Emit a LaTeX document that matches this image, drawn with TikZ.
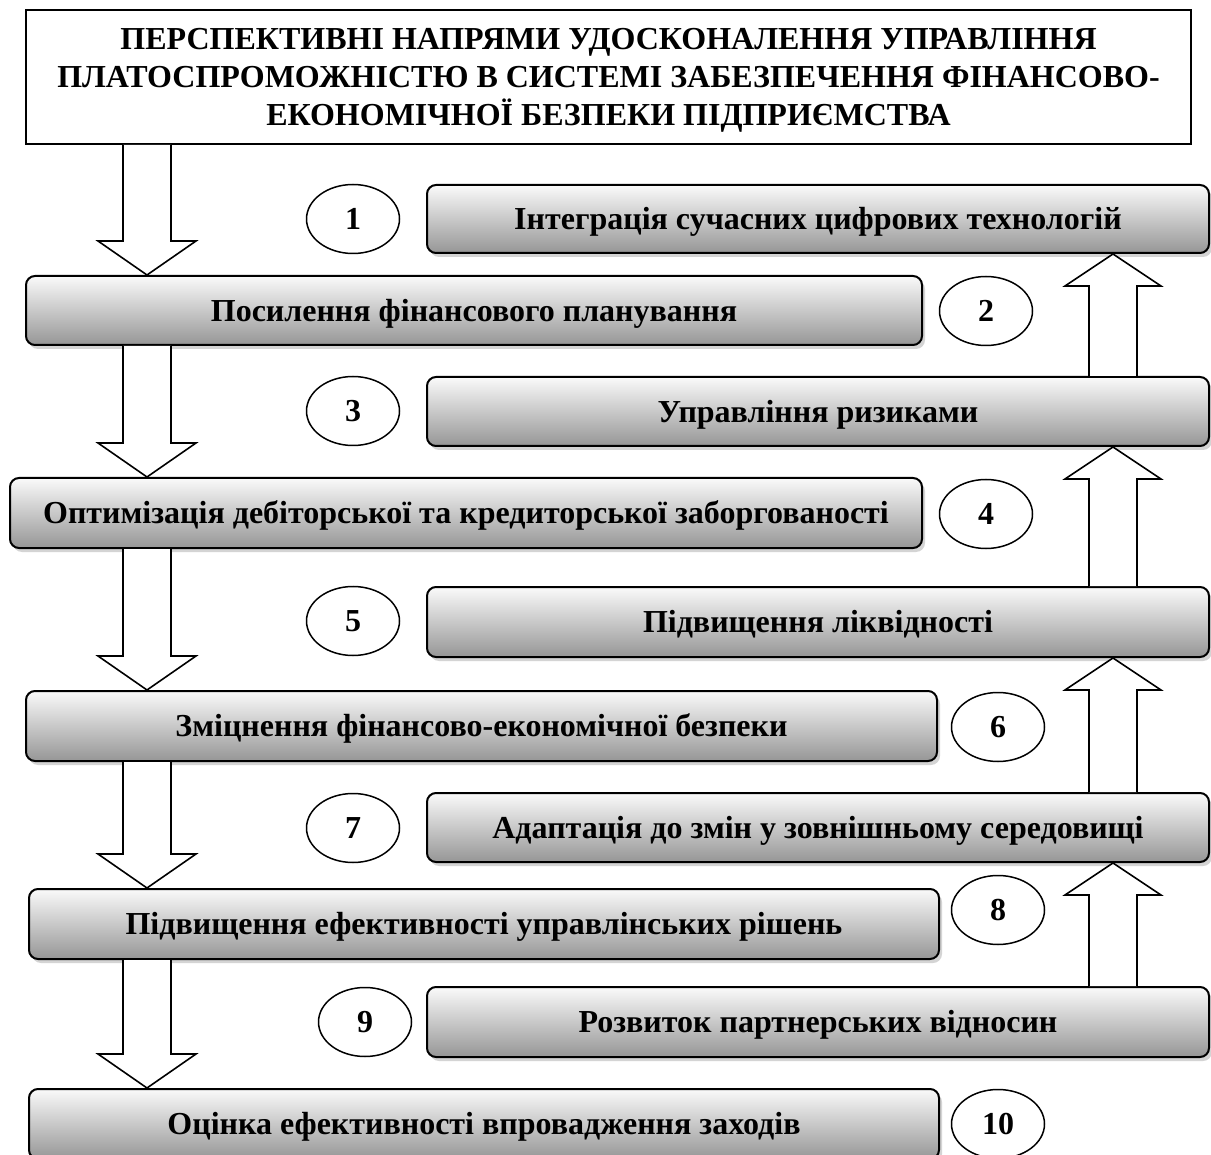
\documentclass[tikz,border=0pt]{standalone}
\usepackage{fontspec}
\setmainfont{Liberation Serif}
\usetikzlibrary{shapes.geometric,shadows,calc}
\definecolor{gtop}{RGB}{250,250,250}
\definecolor{gbot}{RGB}{150,150,150}
\newcommand\arrdown[2]{\draw[blk] let \p1=(#1.south), \p2=(#2.north) in
  (123pt,\y1) -- (123pt,\y2+34pt) -- (98pt,\y2+34pt) -- (147pt,\y2) -- (196pt,\y2+34pt) -- (171pt,\y2+34pt) -- (171pt,\y1);}
\newcommand\arrup[2]{\draw[blk] let \p1=(#1.north), \p2=(#2.south) in
  (1089pt,\y1) -- (1089pt,\y2-32pt) -- (1065pt,\y2-32pt) -- (1113pt,\y2) -- (1161pt,\y2-32pt) -- (1137pt,\y2-32pt) -- (1137pt,\y1);}
\begin{document}
\begin{tikzpicture}[x=1pt,y=-1pt,
  box/.style={draw=black,line width=2pt,rounded corners=9pt,top color=gtop,bottom color=gbot,
    drop shadow={shadow xshift=3pt,shadow yshift=-4pt,fill=black!30,opacity=0.55},
    font=\bfseries\fontsize{32}{38}\selectfont,inner sep=0pt,text height=21.5pt,text depth=0pt},
  num/.style={ellipse,draw=black,line width=1.5pt,fill=white,minimum width=93pt,minimum height=69pt,
    inner sep=0pt,font=\bfseries\fontsize{32}{38}\selectfont,text height=21.5pt,text depth=0pt},
  blk/.style={draw=black,line width=1.6pt,fill=white,line join=miter}]
\fill[white] (0,0) rectangle (1211,1155);
\useasboundingbox (0,0) rectangle (1211,1155);
\node[draw=black,line width=2pt,fill=white,minimum width=1165pt,minimum height=134pt,inner sep=0pt,
  align=center,font=\bfseries\fontsize{32}{38}\selectfont,text height=97.5pt,text depth=0pt]
  (T) at (608.5,77) {ПЕРСПЕКТИВНІ НАПРЯМИ УДОСКОНАЛЕННЯ УПРАВЛІННЯ\\ПЛАТОСПРОМОЖНІСТЮ В СИСТЕМІ ЗАБЕЗПЕЧЕННЯ ФІНАНСОВО-\\ЕКОНОМІЧНОЇ БЕЗПЕКИ ПІДПРИЄМСТВА};
% left boxes
\node[box,minimum width=896pt,minimum height=69pt] (L1) at (474,310.5) {Посилення фінансового планування};
\node[box,minimum width=912pt,minimum height=70pt] (L2) at (466,513) {Оптимізація дебіторської та кредиторської заборгованості};
\node[box,minimum width=911pt,minimum height=70pt] (L3) at (481.5,726) {Зміцнення фінансово-економічної безпеки};
\node[box,minimum width=910pt,minimum height=70pt] (L4) at (484,924) {Підвищення ефективності управлінських рішень};
\node[box,minimum width=910pt,minimum height=70pt] (L5) at (484,1124) {Оцінка ефективності впровадження заходів};
% right boxes
\node[box,minimum width=782pt,minimum height=68pt] (R1) at (818,219) {Інтеграція сучасних цифрових технологій};
\node[box,minimum width=782pt,minimum height=69pt] (R2) at (818,411.5) {Управління ризиками};
\node[box,minimum width=782pt,minimum height=70pt] (R3) at (818,622) {Підвищення ліквідності};
\node[box,minimum width=782pt,minimum height=69pt] (R4) at (818,827.5) {Адаптація до змін у зовнішньому середовищі};
\node[box,minimum width=782pt,minimum height=70pt] (R5) at (818,1022) {Розвиток партнерських відносин};
% numbers
\node[num] (n1) at (353,219) {1};
\node[num] (n2) at (986,311) {2};
\node[num] (n3) at (353,411) {3};
\node[num] (n4) at (986,514) {4};
\node[num] (n5) at (353,621) {5};
\node[num] (n6) at (998,727) {6};
\node[num] (n7) at (353,828) {7};
\node[num] (n8) at (998,910) {8};
\node[num] (n9) at (365,1022) {9};
\node[num] (n10) at (998,1124) {10};
% arrows
\arrdown{T}{L1}
\arrdown{L1}{L2}
\arrdown{L2}{L3}
\arrdown{L3}{L4}
\arrdown{L4}{L5}
\arrup{R2}{R1}
\arrup{R3}{R2}
\arrup{R4}{R3}
\arrup{R5}{R4}
\end{tikzpicture}
\end{document}
